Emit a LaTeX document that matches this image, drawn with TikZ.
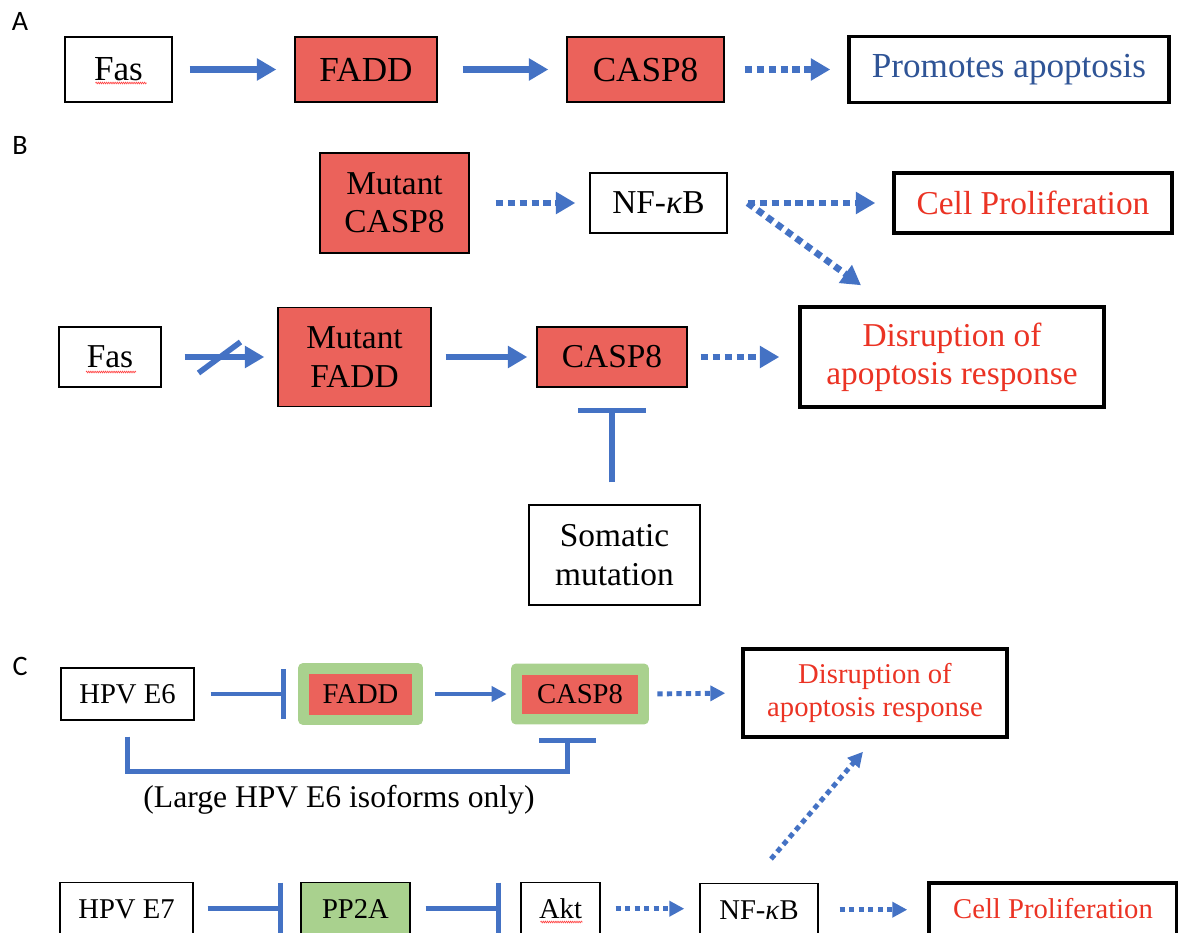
\documentclass[tikz,border=0pt]{standalone}
\usepackage{fontspec}
\setmainfont{Liberation Serif}
\newfontfamily\panelfont{Carlito}
\usetikzlibrary{arrows.meta, calc, decorations.pathmorphing}
\definecolor{arrowblue}{RGB}{68,114,196}
\definecolor{boxred}{RGB}{235,98,91}
\definecolor{boxgreen}{RGB}{169,209,142}
\definecolor{textred}{RGB}{235,51,36}
\definecolor{textblue}{RGB}{47,84,150}
\newcommand{\textA}{\fontsize{20}{23}\selectfont}
\newcommand{\textB}{\fontsize{19}{21.8}\selectfont}
\newcommand{\textC}{\fontsize{16.3}{18.8}\selectfont}
\tikzset{
  plainbox/.style={
    rectangle, draw=black, line width=0.8pt, fill=white,
    inner sep=0pt, align=center},
  redbox/.style={plainbox, fill=boxred},
  greenbox/.style={plainbox, fill=boxgreen},
  outcomebox/.style={plainbox, line width=2pt},
  cutrow/.style={anchor=north, minimum height=1.3cm, text depth=0.26cm},
  greenwrap/.style={rectangle, rounded corners=0.1cm, fill=boxgreen,
    inner sep=0pt},
  redcore/.style={rectangle, fill=boxred, inner sep=0pt},
  arrow/.style={-{Triangle[length=11pt,width=12pt]}, line width=3.8pt,
                color=arrowblue},
  dotarrow/.style={arrow, dash pattern=on 4pt off 2.8pt},
  thinarrow/.style={-{Triangle[length=8.5pt,width=8.5pt]}, line width=2.8pt,
                color=arrowblue},
  thindotarrow/.style={thinarrow, dash pattern=on 3pt off 2.4pt},
  inhibit/.style={-{Bar[width=#1]}, line width=2.8pt, color=arrowblue},
  panel/.style={font=\panelfont\fontsize{16}{18}\selectfont},
  squiggle/.style={draw=red!75, line width=0.35pt, decorate,
    decoration={snake, segment length=1.2pt, amplitude=0.5pt}}
}

\begin{document}
\begin{tikzpicture}[x=0.02cm, y=-0.02cm]
  \clip (0,0) rectangle (1178,933);

  %% Panel A
  \node[panel] (labA) at (20,21) {A};
  \node[plainbox, minimum width=2.14cm, minimum height=1.3cm, font=\textA]
    (fasA) at (118.5,69.5) {Fas};
  \node[redbox, minimum width=2.84cm, minimum height=1.3cm, font=\textA]
    (faddA) at (366,69.5) {FADD};
  \node[redbox, minimum width=3.14cm, minimum height=1.3cm, font=\textA]
    (caspA) at (645.5,69.5) {CASP8};
  \node[outcomebox, minimum width=6.4cm, minimum height=1.32cm, font=\textA,
    text=textblue] (promA) at (1009,69.5) {Promotes apoptosis};

  \draw[arrow, shorten <=0.34cm, shorten >=0.36cm] (fasA.east) -- (faddA.west);
  \draw[arrow, shorten <=0.5cm, shorten >=0.36cm] (faddA.east) -- (caspA.west);
  \draw[dotarrow, shorten <=0.4cm, shorten >=0.34cm] (caspA.east) -- (promA.west);

  %% Panel B: upper row
  \node[panel] (labB) at (20,145) {B};
  \node[redbox, minimum width=2.98cm, minimum height=2cm, font=\textB]
    (mcasp) at (394.5,203) {Mutant\\CASP8};
  \node[plainbox, minimum width=2.74cm, minimum height=1.2cm, font=\textB]
    (nfB) at (658.5,203) {NF-\textit{κ}B};
  \node[outcomebox, minimum width=5.56cm, minimum height=1.2cm, font=\textB,
    text=textred] (cellB) at (1033,203) {Cell Proliferation};

  %% Panel B: lower row
  \node[plainbox, minimum width=2.04cm, minimum height=1.2cm, font=\textB]
    (fasB) at (110,357) {Fas};
  \node[redbox, minimum width=3.06cm, minimum height=1.98cm, font=\textB]
    (mfadd) at (354.5,357) {Mutant\\FADD};
  \node[redbox, minimum width=3cm, minimum height=1.2cm, font=\textB]
    (caspB) at (612,357) {CASP8};
  \node[outcomebox, minimum width=6.08cm, minimum height=2cm, font=\textB,
    text=textred] (disB) at (952,357) {Disruption of\\apoptosis response};
  \node[plainbox, minimum width=3.42cm, minimum height=2cm, font=\textB]
    (somatic) at (614.5,555) {Somatic\\mutation};

  \coordinate (splitB) at ($(nfB.east)+(20,0)$);
  \coordinate (tipB) at ($(disB.north)+(-91,-20)$);
  \coordinate (cutB) at ($(fasB.east)!0.5!(mfadd.west)$);

  \draw[dotarrow, shorten <=0.52cm, shorten >=0.28cm] (mcasp.east) -- (nfB.west);
  \draw[dotarrow, shorten >=0.34cm] (splitB) -- (splitB -| cellB.west);
  \draw[dotarrow] (splitB) -- (tipB);
  \draw[arrow, shorten <=0.46cm, shorten >=0.26cm] (fasB.east) -- (mfadd.west);
  \draw[line width=3.2pt, arrowblue] ($(cutB)+(-21,16)$) -- ($(cutB)+(21,-15)$);
  \draw[arrow, shorten <=0.28cm, shorten >=0.18cm] (mfadd.east) -- (caspB.west);
  \draw[dotarrow, shorten <=0.26cm, shorten >=0.38cm] (caspB.east) -- (disB.west);
  \draw[inhibit=1.36cm, line width=3.2pt, shorten <=0.44cm, shorten >=0.4cm]
    (somatic.north -| caspB.south) -- (caspB.south);

  %% Panel C: E6 branch
  \node[panel] (labC) at (20,666) {C};
  \node[plainbox, minimum width=2.66cm, minimum height=1.04cm, font=\textC]
    (e6) at (127.5,694) {HPV E6};
  \node[greenwrap, minimum width=2.5cm, minimum height=1.24cm]
    (faddG) at (360.5,694) {};
  \node[redcore, minimum width=2.06cm, minimum height=0.82cm, font=\textC]
    (faddC) at (faddG) {FADD};
  \node[greenwrap, minimum width=2.76cm, minimum height=1.22cm]
    (caspG) at (580,694) {};
  \node[redcore, minimum width=2.32cm, minimum height=0.78cm, font=\textC]
    (caspC) at (caspG) {CASP8};
  \node[outcomebox, minimum width=5.28cm, minimum height=1.76cm, font=\textC,
    text=textred] (disC) at (875,693) {Disruption of\\apoptosis response};
  \node[font=\fontsize{18}{21}\selectfont] (isoform) at (339,800)
    {(Large HPV E6 isoforms only)};

  \draw[inhibit=1cm, shorten <=0.32cm, shorten >=0.24cm] (e6.east) -- (faddG.west);
  \draw[thinarrow, shorten <=0.24cm, shorten >=0.08cm] (faddG.east) -- (caspG.west);
  \draw[thindotarrow, shorten <=0.16cm, shorten >=0.32cm] (caspG.east) -- (disC.west);
  \draw[inhibit=1.14cm] ($(e6.south)+(0,16)$) -- ++(0,35)
    -| ($(caspG.south)+(-12.5,13)$);

  %% Panel C: E7 branch (cut off at the lower edge)
  \node[plainbox, cutrow, minimum width=2.66cm, font=\textC]
    (e7) at (126.5,882) {HPV E7};
  \node[greenbox, cutrow, minimum width=2.18cm, font=\textC]
    (pp2a) at (355.5,882) {PP2A};
  \node[plainbox, cutrow, minimum width=1.58cm, font=\textC]
    (akt) at (560.5,882) {Akt};
  \node[plainbox, cutrow, minimum width=2.36cm, font=\textC]
    (nfC) at (759,883) {NF-\textit{κ}B};
  \node[outcomebox, cutrow, minimum width=4.96cm, font=\textC,
    text=textred] (cellC) at (1053,881) {Cell Proliferation};

  \coordinate (riseC) at ($(nfC.north)+(12,-24)$);
  \coordinate (tipC) at ($(disC.south)+(-12,13)$);

  \draw[inhibit=1.04cm, shorten <=0.28cm, shorten >=0.34cm]
    ([yshift=0.13cm]e7.east) -- ([yshift=0.13cm]pp2a.west);
  \draw[inhibit=1.04cm, shorten <=0.3cm, shorten >=0.38cm]
    ([yshift=0.13cm]pp2a.east) -- ([yshift=0.13cm]akt.west);
  \draw[thindotarrow, shorten <=0.3cm, shorten >=0.3cm]
    ([yshift=0.13cm]akt.east) -- ([yshift=0.13cm]akt.east -| nfC.west);
  \draw[thindotarrow, shorten <=0.42cm, shorten >=0.4cm]
    ([yshift=0.13cm]nfC.east) -- ([yshift=0.13cm]nfC.east -| cellC.west);
  \draw[thindotarrow] (riseC) -- (tipC);

  %% spell-check marks under the text
  \draw[squiggle] ($(fasA)+(-23,13.5)$) -- ($(fasA)+(28,13.5)$);
  \draw[squiggle] ($(fasB)+(-24,15)$) -- ($(fasB)+(26,15)$);
  \draw[squiggle] ($(akt.north)+(-20,40)$) -- ($(akt.north)+(22,40)$);

\end{tikzpicture}
\end{document}
